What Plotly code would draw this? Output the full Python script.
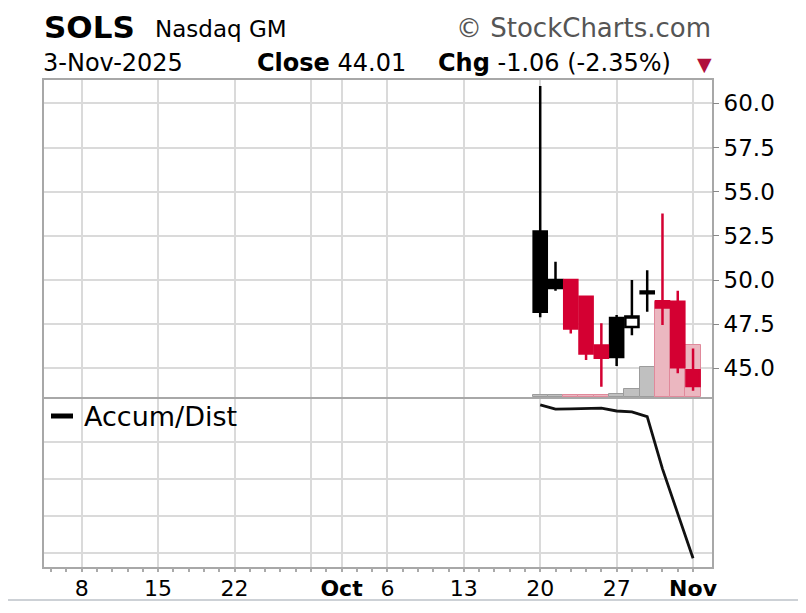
import pandas as pd
import plotly.graph_objects as go

# --- data ---
dates = ["2025-10-20", "2025-10-21", "2025-10-22", "2025-10-23", "2025-10-24",
         "2025-10-27", "2025-10-28", "2025-10-29", "2025-10-30", "2025-10-31",
         "2025-11-03"]
opens = [52.75, 50.00, 50.00, 49.05, 46.30, 47.85, 47.35, 49.35, 48.80, 48.77, 44.90]
highs = [60.98, 51.03, 50.00, 49.05, 47.55, 48.02, 50.00, 50.56, 53.77, 49.40, 46.13]
lows = [47.89, 49.40, 46.98, 45.47, 43.96, 45.13, 46.88, 48.20, 47.45, 44.72, 43.73]
closes = [48.20, 49.55, 47.26, 45.85, 45.60, 45.65, 47.94, 49.25, 48.45, 45.07, 44.01]
volume = [0.25, 0.25, 0.25, 0.25, 0.25, 0.3, 0.8, 3.0, 9.5, 9.3, 5.2]   # millions
accum_dist = [2.03, 1.80, 1.82, 1.84, 1.85, 1.70, 1.65, 1.40, -1.43, -3.85, -6.27]

tick_dates = ["2025-09-08", "2025-09-15", "2025-09-22", "2025-09-29", "2025-10-01",
              "2025-10-06", "2025-10-13", "2025-10-20", "2025-10-27", "2025-11-03"]
tick_text = ["8", "15", "22", "", "<b>Oct</b>", "6", "13", "20", "27", "<b>Nov</b>"]
price_ticks = [45.0, 47.5, 50.0, 52.5, 55.0, 57.5, 60.0]

# trading days shown on the axis
days = [d.strftime("%Y-%m-%d") for d in pd.bdate_range("2025-09-04", "2025-11-03")]

df = pd.DataFrame({"date": dates, "open": opens, "high": highs, "low": lows,
                   "close": closes, "volume": volume, "ad": accum_dist})
# StockCharts colouring: black if close >= previous close, red otherwise
df["up"] = df["close"] >= df["close"].shift(1).fillna(df["close"])

RED = "#d40032"
GRID = "#dadada"
BORDER = "#a8a8a8"
FONT = "DejaVu Sans"

# page has an 8px body margin, so the figure is drawn 8px in from the window corner
OFF = 8
W, H = 806 - OFF, 613 - OFF
L, R, T, B = 44, 712, 80, 567          # plot area in window pixels

fig = go.Figure()

# volume bars (base axis, drawn under the candles)
fig.add_trace(go.Bar(
    x=df["date"], y=df["volume"], xaxis="x", yaxis="y",
    marker=dict(color=["#c0c0c0" if u else "#ebb7c0" for u in df["up"]],
                line=dict(color=["#9c9c9c" if u else "#e0899b" for u in df["up"]], width=1)),
    hoverinfo="skip",
))

for up, col in [(True, "black"), (False, RED)]:
    sub = df[df["up"] == up]
    fig.add_trace(go.Candlestick(
        x=sub["date"], open=sub["open"], high=sub["high"], low=sub["low"], close=sub["close"],
        xaxis="x", yaxis="y3", whiskerwidth=0,
        increasing=dict(line=dict(color=col, width=2.5), fillcolor="white"),
        decreasing=dict(line=dict(color=col, width=2.5), fillcolor=col),
    ))

# Accum/Dist line
fig.add_trace(go.Scatter(
    x=df["date"], y=df["ad"], xaxis="x2", yaxis="y2", mode="lines",
    line=dict(color="#111111", width=2.8),
))
# empty trace so the minor-tick axis gets drawn
fig.add_trace(go.Scatter(x=[], y=[], xaxis="x3", yaxis="y2"))

xrange = [-0.467, 43.24]

fig.update_layout(
    width=W, height=H,
    margin=dict(l=L - OFF, r=W - (R - OFF), t=T - OFF, b=H - (B - OFF)),
    paper_bgcolor="white", plot_bgcolor="white",
    showlegend=False,
    boxgap=0.14, boxgroupgap=0, bargap=0.0,
    font=dict(family=FONT, size=22, color="black"),
    xaxis=dict(type="category", categoryorder="array", categoryarray=days,
               range=xrange, anchor="y", matches="x2",
               tickvals=tick_dates, showticklabels=False, ticks="",
               showgrid=True, gridcolor=GRID, gridwidth=1.5,
               showline=True, linecolor=BORDER, linewidth=2, mirror=True,
               rangeslider=dict(visible=False)),
    yaxis=dict(domain=[0.349, 1], range=[0, 31.7], showgrid=False,
               showticklabels=False, ticks="", zeroline=False,
               showline=True, linecolor=BORDER, linewidth=2, mirror=True),
    yaxis3=dict(overlaying="y", side="right", anchor="x",
                range=[43.38, 61.32], tickvals=price_ticks, tickformat=".1f",
                ticks="outside", ticklen=6, tickcolor="#888888",
                tickfont=dict(family=FONT, size=23),
                showgrid=True, gridcolor=GRID, gridwidth=1.5, zeroline=False),
    xaxis2=dict(type="category", categoryorder="array", categoryarray=days,
                range=xrange, anchor="y2",
                tickvals=tick_dates, ticktext=tick_text,
                ticks="outside", ticklen=1, tickcolor="rgba(0,0,0,0)",
                tickfont=dict(family=FONT, size=22),
                showgrid=True, gridcolor=GRID, gridwidth=1.5,
                showline=True, linecolor=BORDER, linewidth=2, mirror=True),
    xaxis3=dict(type="linear", overlaying="x2", anchor="y2", range=xrange,
                tickvals=list(range(len(days))), ticks="outside", ticklen=4,
                tickcolor="#aaaaaa", tickwidth=1.5, showticklabels=False,
                showgrid=False, zeroline=False, showline=False),
    yaxis2=dict(domain=[0, 0.345], range=[-6.74, 2.35], tickvals=[0, -2, -4, -6],
                showticklabels=False, ticks="", zeroline=False,
                showgrid=True, gridcolor=GRID, gridwidth=1.5,
                showline=True, linecolor=BORDER, linewidth=2, mirror=True),
)


def px_x(px):
    return (px - L) / (R - L)


def px_y(py):
    return (B - py) / (B - T)


def note(text, x, y, size, anchor="left", color="black"):
    fig.add_annotation(text=text, x=px_x(x), y=px_y(y), xref="paper", yref="paper",
                       xanchor=anchor, yanchor="middle", showarrow=False,
                       font=dict(family=FONT, size=size, color=color))


note("<b>SOLS</b>", 42, 27, 31)
note("Nasdaq GM", 153, 29, 23)
note("© StockCharts.com", 713, 28, 26, anchor="right", color="#555555")
note("3-Nov-2025", 41, 63, 24)
note("<b>Close</b> 44.01", 255, 63, 24)
note("<b>Chg</b> -1.06 (-2.35%)", 436, 63, 24)
note("▼", 704, 64, 19, anchor="center", color="#b0103c")
note("Accum/Dist", 82, 416, 27)

# legend dash for Accum/Dist and outer frame lines
fig.add_shape(type="line", xref="paper", yref="paper",
              x0=px_x(51), x1=px_x(73), y0=px_y(416), y1=px_y(416),
              line=dict(color="black", width=5))
for yy in [3, 600]:
    fig.add_shape(type="line", xref="paper", yref="paper",
                  x0=px_x(OFF), x1=px_x(806), y0=px_y(yy), y1=px_y(yy),
                  line=dict(color="#cdd1d6", width=2))

fig.write_html("out.html")
